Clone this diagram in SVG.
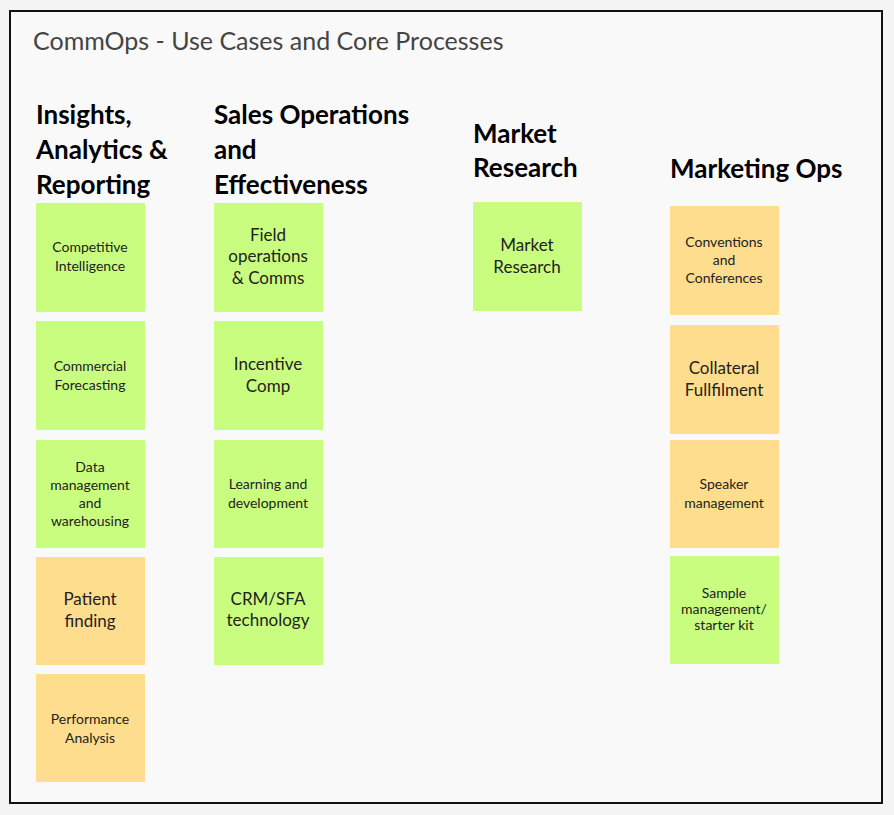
<svg xmlns="http://www.w3.org/2000/svg" width="894" height="815" viewBox="0 0 894 815">
<style>
.g{fill:#c9fd80}.o{fill:#fedd8e}
.h{font-family:Lato,"Liberation Sans",sans-serif;font-weight:bold;font-size:26px;fill:#000}
.s{font-family:Lato,"Liberation Sans",sans-serif;font-size:14px;fill:#222;text-anchor:middle}
.l{font-family:Lato,"Liberation Sans",sans-serif;font-size:17px;fill:#222;text-anchor:middle}
</style>
<rect width="894" height="815" fill="#f4f4f4"/>
<rect x="10" y="11" width="872" height="792" fill="#f9f9f9" stroke="#111" stroke-width="2"/>
<text x="33" y="50" font-family="Lato,'Liberation Sans',sans-serif" font-size="25" fill="#444">CommOps - Use Cases and Core Processes</text>
<g id="headings">
<text class="h" x="36" y="124">Insights,</text><text class="h" x="36" y="159">Analytics &amp;</text><text class="h" x="36" y="194">Reporting</text>
<text class="h" x="214" y="124">Sales Operations</text><text class="h" x="214" y="159">and</text><text class="h" x="214" y="194">Effectiveness</text>
<text class="h" x="473" y="143">Market</text><text class="h" x="473" y="177">Research</text>
<text class="h" x="670" y="178">Marketing Ops</text>
</g>
<g id="n1"><rect class="g" x="36" y="203" width="109" height="109"/><text class="s" x="90" y="252">Competitive</text><text class="s" x="90" y="271">Intelligence</text></g>
<g id="n2"><rect class="g" x="36" y="321" width="109" height="109"/><text class="s" x="90" y="371">Commercial</text><text class="s" x="90" y="390">Forecasting</text></g>
<g id="n3"><rect class="g" x="36" y="440" width="109" height="108"/><text class="s" x="90" y="472">Data</text><text class="s" x="90" y="490">management</text><text class="s" x="90" y="508">and</text><text class="s" x="90" y="526">warehousing</text></g>
<g id="n4"><rect class="o" x="36" y="557" width="109" height="108"/><text class="l" x="90" y="605">Patient</text><text class="l" x="90" y="627">finding</text></g>
<g id="n5"><rect class="o" x="36" y="674" width="109" height="108"/><text class="s" x="90" y="724">Performance</text><text class="s" x="90" y="743">Analysis</text></g>
<g id="n6"><rect class="g" x="214" y="203" width="109" height="109"/><text class="l" x="268" y="241">Field</text><text class="l" x="268" y="262">operations</text><text class="l" x="268" y="284">&amp; Comms</text></g>
<g id="n7"><rect class="g" x="214" y="321" width="109" height="109"/><text class="l" x="268" y="370">Incentive</text><text class="l" x="268" y="392">Comp</text></g>
<g id="n8"><rect class="g" x="214" y="440" width="109" height="108"/><text class="s" x="268" y="489">Learning and</text><text class="s" x="268" y="508">development</text></g>
<g id="n9"><rect class="g" x="214" y="557" width="109" height="108"/><text class="l" x="268" y="605">CRM/SFA</text><text class="l" x="268" y="626">technology</text></g>
<g id="n10"><rect class="g" x="473" y="202" width="109" height="109"/><text class="l" x="527" y="251">Market</text><text class="l" x="527" y="273">Research</text></g>
<g id="n11"><rect class="o" x="670" y="206" width="109" height="109"/><text class="s" x="724" y="247">Conventions</text><text class="s" x="724" y="265">and</text><text class="s" x="724" y="283">Conferences</text></g>
<g id="n12"><rect class="o" x="670" y="325" width="109" height="109"/><text class="l" x="724" y="374">Collateral</text><text class="l" x="724" y="396">Fullfilment</text></g>
<g id="n13"><rect class="o" x="670" y="440" width="109" height="108"/><text class="s" x="724" y="489">Speaker</text><text class="s" x="724" y="508">management</text></g>
<g id="n14"><rect class="g" x="670" y="556" width="109" height="108"/><text class="s" x="724" y="598" font-size="13">Sample</text><text class="s" x="724" y="614" font-size="13">management/</text><text class="s" x="724" y="630" font-size="13">starter kit</text></g>
<g id="connectors"/>
</svg>
